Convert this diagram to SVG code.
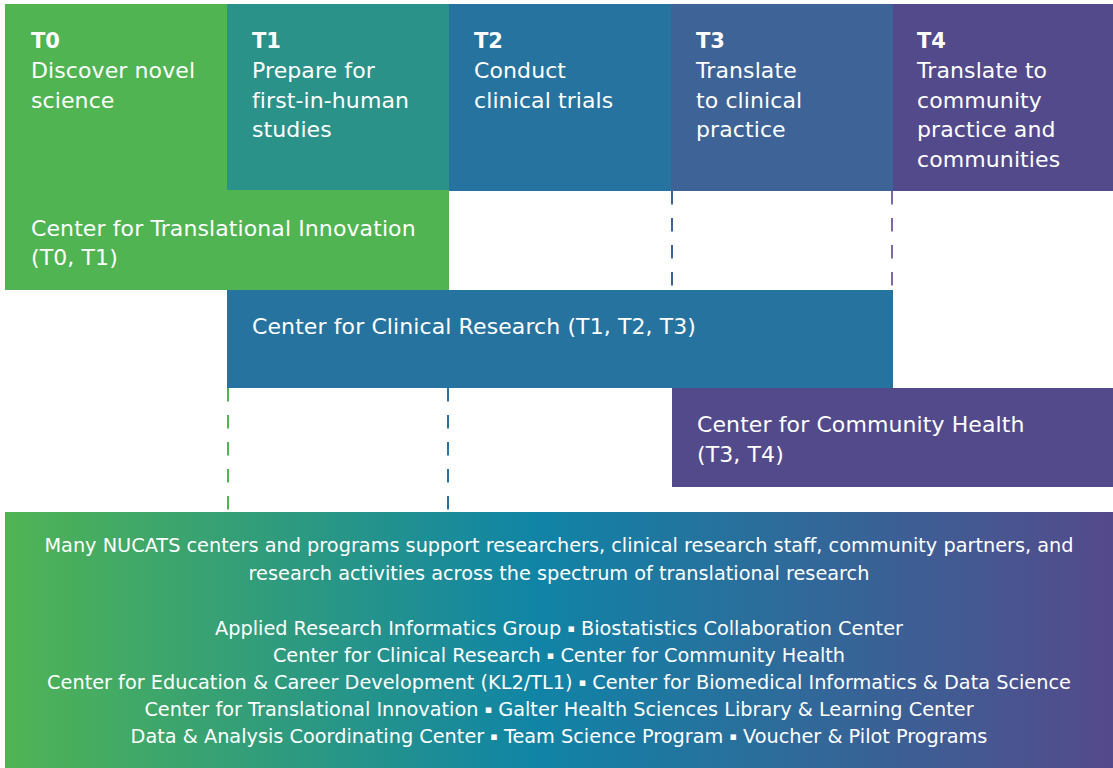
<svg xmlns="http://www.w3.org/2000/svg" width="1113" height="768" viewBox="0 0 1113 768">
<defs>
<linearGradient id="spectrum" x1="5" y1="0" x2="1113" y2="0" gradientUnits="userSpaceOnUse">
<stop offset="0" stop-color="#50b453"/>
<stop offset="0.48" stop-color="#1084a6"/>
<stop offset="1" stop-color="#554a8b"/>
</linearGradient>
<style>
text{font-family:"DejaVu Sans","Liberation Sans",sans-serif;fill:#ffffff}
.h{font-weight:bold;font-size:21px}
.b{font-size:22px;letter-spacing:0.1px}
.s{font-size:19.3px}
.sq{font-size:11px}
.dash{stroke-width:2;stroke-dasharray:13.5 13.5;fill:none}
</style>
</defs>
<rect width="1113" height="768" fill="#ffffff"/>

<g id="t0">
<rect x="5" y="4" width="222" height="187" fill="#50b453"/>
<text class="h" x="31" y="48">T0</text>
<text class="b" x="31" y="78">Discover novel</text>
<text class="b" x="31" y="107.5">science</text>
</g>
<g id="t1">
<rect x="227" y="4" width="222" height="187" fill="#2a9289"/>
<text class="h" x="252" y="48">T1</text>
<text class="b" x="252" y="78">Prepare for</text>
<text class="b" x="252" y="107.5">first-in-human</text>
<text class="b" x="252" y="137">studies</text>
</g>
<g id="t2">
<rect x="449" y="4" width="222" height="187" fill="#26739f"/>
<text class="h" x="474" y="48">T2</text>
<text class="b" x="474" y="78">Conduct</text>
<text class="b" x="474" y="107.5">clinical trials</text>
</g>
<g id="t3">
<rect x="671" y="4" width="222" height="187" fill="#3e6396"/>
<text class="h" x="696" y="48">T3</text>
<text class="b" x="696" y="78">Translate</text>
<text class="b" x="696" y="107.5">to clinical</text>
<text class="b" x="696" y="137">practice</text>
</g>
<g id="t4">
<rect x="893" y="4" width="220" height="187" fill="#534a8b"/>
<text class="h" x="917" y="48">T4</text>
<text class="b" x="917" y="78">Translate to</text>
<text class="b" x="917" y="107.5">community</text>
<text class="b" x="917" y="137">practice and</text>
<text class="b" x="917" y="166.5">communities</text>
</g>

<g id="cti">
<rect x="5" y="190" width="444" height="100" fill="#50b453"/>
<text class="b" x="31" y="236">Center for Translational Innovation</text>
<text class="b" x="31" y="265">(T0, T1)</text>
</g>
<g id="ccr">
<rect x="227" y="290" width="666" height="98" fill="#26739f"/>
<text class="b" x="252" y="334">Center for Clinical Research (T1, T2, T3)</text>
</g>
<g id="cch">
<rect x="672" y="388" width="441" height="99" fill="#534a8b"/>
<text class="b" x="697" y="432">Center for Community Health</text>
<text class="b" x="697" y="461.5">(T3, T4)</text>
</g>

<g id="connectors">
<line class="dash" x1="672" y1="191" x2="672" y2="290" stroke="#3e6396"/>
<line class="dash" x1="892" y1="191" x2="892" y2="290" stroke="#7a6aaa"/>
<line class="dash" x1="228" y1="388" x2="228" y2="510" stroke="#50b453"/>
<line class="dash" x1="448" y1="388" x2="448" y2="510" stroke="#26739f"/>
</g>

<g id="support">
<rect x="5" y="512" width="1108" height="256" fill="url(#spectrum)"/>
<g text-anchor="middle">
<text class="s" x="559" y="552">Many NUCATS centers and programs support researchers, clinical research staff, community partners, and</text>
<text class="s" x="559" y="580">research activities across the spectrum of translational research</text>
<text class="s" x="559" y="635">Applied Research Informatics Group <tspan class="sq" dy="-3">▪</tspan><tspan dy="3"> Biostatistics Collaboration Center</tspan></text>
<text class="s" x="559" y="662">Center for Clinical Research <tspan class="sq" dy="-3">▪</tspan><tspan dy="3"> Center for Community Health</tspan></text>
<text class="s" x="559" y="689">Center for Education &amp; Career Development (KL2/TL1) <tspan class="sq" dy="-3">▪</tspan><tspan dy="3"> Center for Biomedical Informatics &amp; Data Science</tspan></text>
<text class="s" x="559" y="716">Center for Translational Innovation <tspan class="sq" dy="-3">▪</tspan><tspan dy="3"> Galter Health Sciences Library &amp; Learning Center</tspan></text>
<text class="s" x="559" y="743">Data &amp; Analysis Coordinating Center <tspan class="sq" dy="-3">▪</tspan><tspan dy="3"> Team Science Program </tspan><tspan class="sq" dy="-3">▪</tspan><tspan dy="3"> Voucher &amp; Pilot Programs</tspan></text>
</g>
</g>
</svg>
